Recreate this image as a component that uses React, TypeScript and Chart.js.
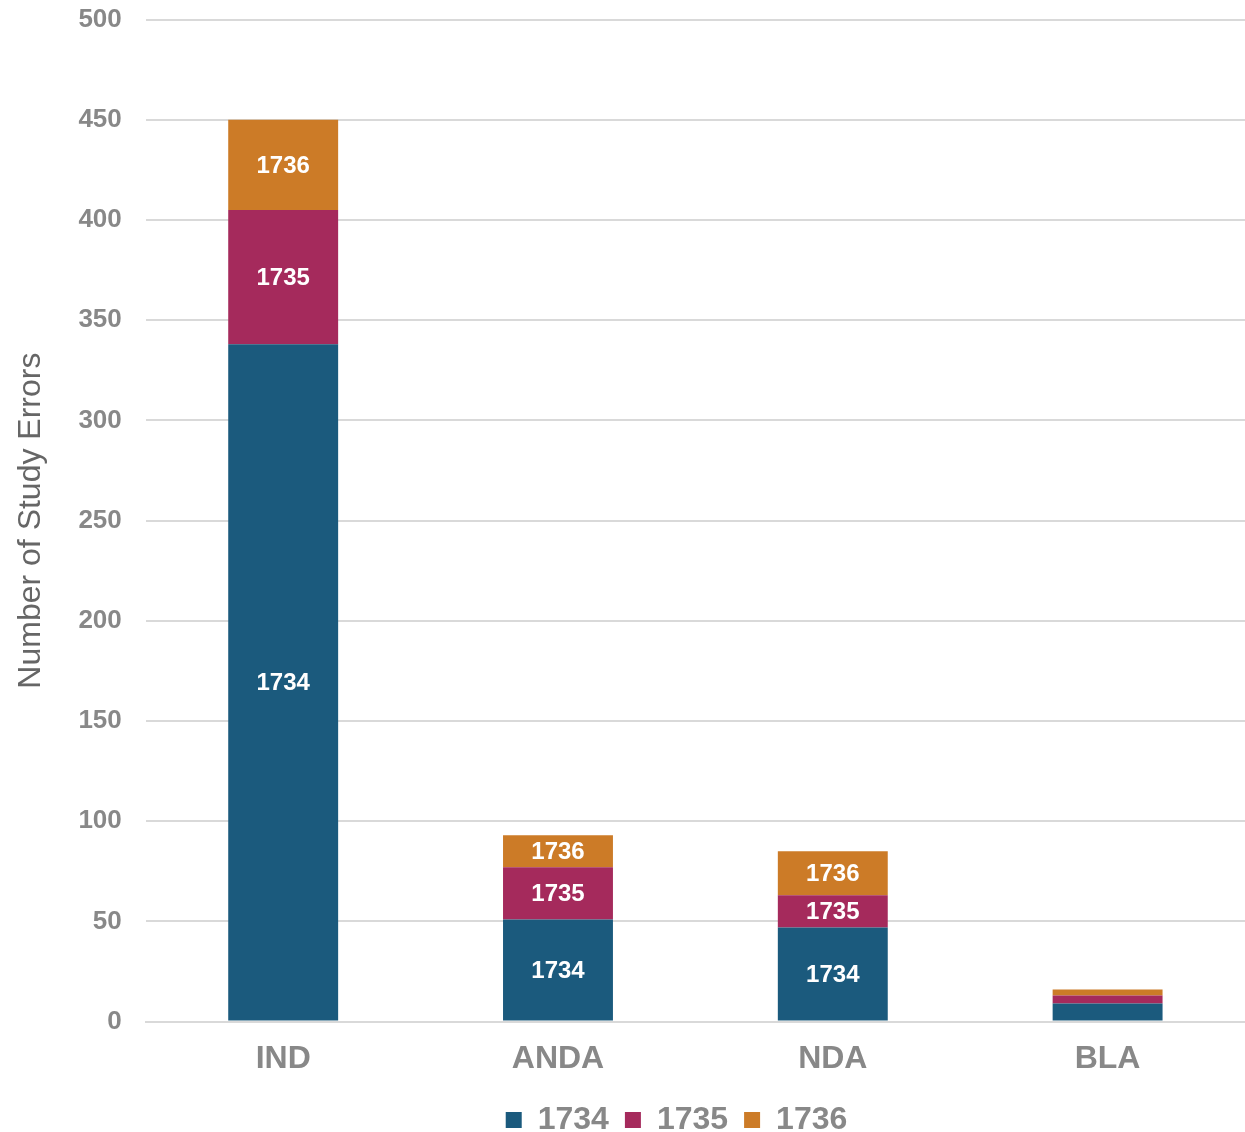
import React, { useEffect, useRef } from "react";
import { Chart, registerables } from "chart.js";

Chart.register(...registerables);

const categories = ["IND", "ANDA", "NDA", "BLA"];
const seriesNames = ["1734", "1735", "1736"];
const values1734 = [338, 51, 47, 9];
const values1735 = [67, 26, 16, 4];
const values1736 = [45, 16, 22, 3];
const seriesColors = ["#1b5a7d", "#a52a5c", "#cc7b27"];
const yTicksMax = 500;
const yTickStep = 50;
const yTitle = "Number of Study Errors";

const FONT = "'Liberation Sans', Arial, sans-serif";
const CANVAS_H = 1174;
const CANVAS_SHIFT = -20;
const LEGEND_SHIFT_X = 48;
const LEGEND_SHIFT_Y = -8;

const segmentLabels = {
  id: "segmentLabels",
  afterDatasetsDraw(chart: any) {
    const ctx = chart.ctx;
    ctx.save();
    ctx.fillStyle = "#ffffff";
    ctx.font = `bold 24px ${FONT}`;
    ctx.textAlign = "center";
    ctx.textBaseline = "middle";
    chart.data.datasets.forEach((ds: any, di: number) => {
      const meta = chart.getDatasetMeta(di);
      meta.data.forEach((el: any) => {
        const h = Math.abs(el.base - el.y);
        if (h >= 24) {
          ctx.fillText(ds.label, el.x, (el.y + el.base) / 2 + 1);
        }
      });
    });
    ctx.restore();
  },
};

const legendShift = {
  id: "legendShift",
  afterLayout(chart: any) {
    const l = chart.legend;
    if (l) {
      l.left += LEGEND_SHIFT_X;
      l.right += LEGEND_SHIFT_X;
      l.top += LEGEND_SHIFT_Y;
      l.bottom += LEGEND_SHIFT_Y;
    }
  },
};

export default function App() {
  const ref = useRef<HTMLCanvasElement | null>(null);
  useEffect(() => {
    if (!ref.current) return;
    const data = [values1734, values1735, values1736];
    const chart = new Chart(ref.current, {
      type: "bar",
      data: {
        labels: categories,
        datasets: seriesNames.map((n, i) => ({
          label: n,
          data: data[i],
          backgroundColor: seriesColors[i],
          borderWidth: 0,
          barPercentage: 0.4,
          categoryPercentage: 1,
        })),
      },
      options: {
        animation: false,
        responsive: false,
        maintainAspectRatio: false,
        layout: { padding: { top: 0, right: 0, left: 12, bottom: 0 } },
        plugins: {
          legend: {
            position: "bottom",
            labels: {
              color: "#888888",
              font: { family: FONT, size: 32, weight: "bold" },
              boxWidth: 16,
              boxHeight: 16,
              padding: 16,
            },
          },
          tooltip: { enabled: false },
        },
        scales: {
          x: {
            stacked: true,
            grid: { display: false, drawTicks: false },
            border: { display: true, color: "#d9d9d9", width: 2 },
            ticks: {
              color: "#888888",
              font: { family: FONT, size: 32, weight: "bold" },
              padding: 18,
            },
          },
          y: {
            stacked: true,
            min: 0,
            max: yTicksMax,
            grid: { color: "#d9d9d9", lineWidth: 2, drawTicks: false },
            border: { display: false },
            ticks: {
              stepSize: yTickStep,
              color: "#888888",
              font: { family: FONT, size: 26, weight: "bold" },
              padding: 24,
            },
            title: {
              display: true,
              text: yTitle,
              color: "#666666",
              font: { family: FONT, size: 32 },
              padding: { top: 0, bottom: 4 },
            },
          },
        },
      },
      plugins: [segmentLabels, legendShift],
    });
    return () => chart.destroy();
  }, []);
  return (
    <div style={{ position: "absolute", left: 0, top: 0, width: 1245, height: 1132, background: "#fff", overflow: "hidden" }}>
      <canvas
        ref={ref}
        width={1245}
        height={CANVAS_H}
        style={{ position: "absolute", left: 0, top: CANVAS_SHIFT, width: 1245, height: CANVAS_H }}
      />
    </div>
  );
}
